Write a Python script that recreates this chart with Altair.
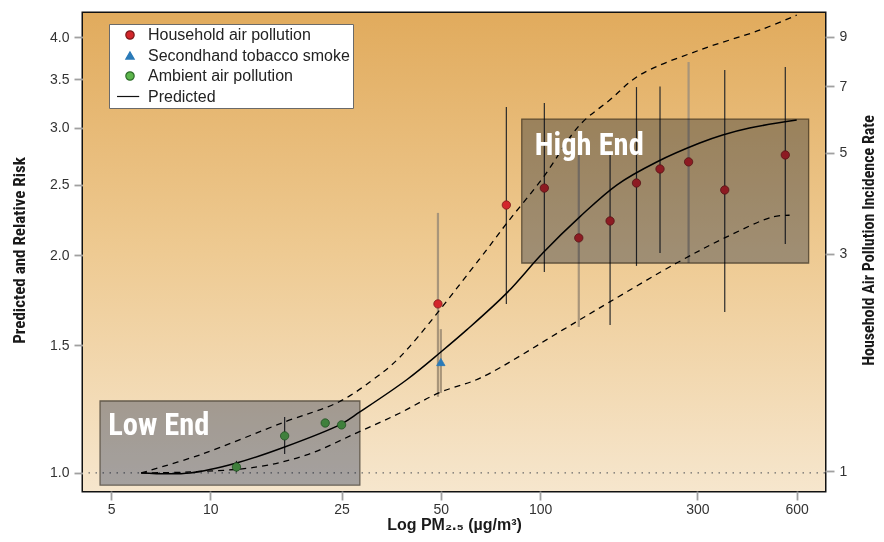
import altair as alt
import pandas as pd

# ---------------- data ----------------
series = ["Household air pollution", "Secondhand tobacco smoke",
          "Ambient air pollution", "Predicted"]

# Household air pollution (points + 95% CI)
hap_x = [49, 79, 103, 131, 163, 196, 231, 282, 363, 554]
hap_y = [1.712, 2.345, 2.475, 2.112, 2.229, 2.515, 2.63, 2.69, 2.46, 2.75]
hap_lo = [1.274, 1.712, 1.895, 1.591, 1.601, 1.932, 2.013, 1.950, 1.669, 2.072]
hap_hi = [2.287, 3.203, 3.244, 2.749, 2.749, 3.413, 3.42, 3.696, 3.603, 3.637]
hap_tone = ["faded", "dark", "dark", "faded", "dark", "dark", "dark", "faded", "dark", "dark"]

# Secondhand tobacco smoke
shs_x = [50]
shs_y = [1.423]
shs_lo = [1.29]
shs_hi = [1.58]

# Ambient air pollution
amb_x = [12.0, 16.8, 22.3, 25.0]
amb_y = [1.019, 1.125, 1.172, 1.165]
amb_ci_x = [12.0, 16.8]
amb_lo = [1.003, 1.062]
amb_hi = [1.039, 1.195]

# Predicted curve and its bounds
pred_x = [6.17, 8.68, 12.0, 16.8, 25.0, 28.4, 39.4, 50, 59.9, 79.3, 101.9,
          131.9, 170.7, 225.7, 304.8, 357.7, 431.5, 600]
pred_y = [1.0, 1.0, 1.032, 1.086, 1.169, 1.214, 1.345, 1.469, 1.576, 1.773,
          2.013, 2.258, 2.499, 2.689, 2.856, 2.930, 2.996, 3.073]
up_x = [6.17, 9.30, 16.8, 24.6, 31.1, 37.6, 65.2, 79.3, 101.9, 131.9, 162.6,
        200.5, 304.8, 463, 600]
up_y = [1.0, 1.059, 1.176, 1.254, 1.345, 1.446, 1.969, 2.214, 2.556, 3.025,
        3.275, 3.546, 3.84, 4.09, 4.29]
lo_x = [6.17, 8.68, 13.85, 19.6, 27.8, 37.6, 49.3, 66.0, 117.1, 162.6, 259.5,
        362.7, 507, 571]
lo_y = [1.0, 1.003, 1.019, 1.059, 1.136, 1.210, 1.290, 1.353, 1.576, 1.723,
        1.950, 2.112, 2.258, 2.27]

# Shaded regions
box_label = ["Low End", "High End"]
box_x1 = [4.63, 88.0]
box_x2 = [28.4, 652]
box_y1 = [0.962, 1.950]
box_y2 = [1.257, 3.083]
label_x = [4.90, 96.4]
label_y = [1.128, 2.749]

ref_level = [1.0]

x_ticks = [5, 10, 25, 50, 100, 300, 600]
left_ticks = [1.0, 1.5, 2.0, 2.5, 3.0, 3.5, 4.0]
right_ticks = [1, 3, 5, 7, 9]

x_domain = [4.11, 731]
left_domain = [0.944, 4.32]
right_domain = [0.904, 10.15]

# ---------------- frames ----------------
pts = pd.DataFrame({
    "x": hap_x + shs_x + amb_x,
    "y": hap_y + shs_y + amb_y,
    "series": [series[0]] * len(hap_x) + [series[1]] * len(shs_x) + [series[2]] * len(amb_x),
})
bars = pd.DataFrame({
    "x": hap_x + shs_x + amb_ci_x,
    "lo": hap_lo + shs_lo + amb_lo,
    "hi": hap_hi + shs_hi + amb_hi,
    "tone": hap_tone + ["faded"] * len(shs_x) + ["dark"] * len(amb_ci_x),
})
pred = pd.DataFrame({"x": pred_x, "y": pred_y})
upper = pd.DataFrame({"x": up_x, "y": up_y})
lower = pd.DataFrame({"x": lo_x, "y": lo_y})
boxes = pd.DataFrame({"label": box_label, "x1": box_x1, "x2": box_x2,
                      "y1": box_y1, "y2": box_y2, "lx": label_x, "ly": label_y})
ref = pd.DataFrame({"y": ref_level})
right = pd.DataFrame({"r": right_ticks})

W, H = 742, 478
NARROW = "Roboto Condensed, Roboto, sans-serif"
SANS = "Liberation Sans, Arial, Helvetica, sans-serif"

xscale = alt.Scale(type="log", domain=x_domain, nice=False)
yscale = alt.Scale(type="log", domain=left_domain, nice=False)

x_axis = alt.Axis(values=x_ticks, format="d", title="Log PM₂.₅ (µg/m³)",
                  titleFont=SANS, titleFontSize=16, titleFontWeight="bold",
                  titleColor="#1a1a1a", titleX=W / 2, titleY=38,
                  titleAlign="center", titleBaseline="alphabetic",
                  labelFlush=False, labelPadding=2)
y_axis = alt.Axis(values=left_ticks, format=".1f",
                  title="Predicted and Relative Risk",
                  titleFont=NARROW, titleFontSize=17, titleFontWeight="bold",
                  titleColor="#1a1a1a", titleAngle=270, titleX=-59, titleY=237,
                  titleAlign="center", titleBaseline="alphabetic")


def X(field="x"):
    return alt.X(f"{field}:Q", scale=xscale, axis=x_axis)


def Y(field="y"):
    return alt.Y(f"{field}:Q", scale=yscale, axis=y_axis)


background = alt.Chart(pd.DataFrame({"a": [0]})).mark_rect(
    color=alt.Gradient(
        gradient="linear", x1=0, x2=0, y1=0, y2=1,
        stops=[alt.GradientStop(offset=0, color="#e1ab5d"),
               alt.GradientStop(offset=0.5, color="#eeca92"),
               alt.GradientStop(offset=1, color="#f6e6cd")])
).encode(x=alt.value(0), x2=alt.value(W), y=alt.value(0), y2=alt.value(H))

dotted = alt.Chart(ref).mark_rule(color="#6a6a6a", strokeDash=[1.5, 5.5],
                                  strokeWidth=1.4).encode(y=Y())

errbars = alt.Chart(bars).mark_rule().encode(
    x=X(), y=Y("lo"), y2="hi:Q",
    color=alt.Color("tone:N", scale=alt.Scale(domain=["faded", "dark"],
                                              range=["#a8957a", "#2b2b2b"]),
                    legend=None),
    strokeWidth=alt.StrokeWidth("tone:N", scale=alt.Scale(domain=["faded", "dark"],
                                                          range=[2.2, 1.2]),
                                legend=None),
)

dash_up = alt.Chart(upper).mark_line(color="black", strokeWidth=1.3,
                                     strokeDash=[6, 5], interpolate="catmull-rom").encode(x=X(), y=Y())
dash_lo = alt.Chart(lower).mark_line(color="black", strokeWidth=1.3,
                                     strokeDash=[6, 5], interpolate="catmull-rom").encode(x=X(), y=Y())
solid = alt.Chart(pred).mark_line(color="black", strokeWidth=1.5,
                                  interpolate="catmull-rom").encode(x=X(), y=Y())

legend = alt.Legend(title=None, orient="none", legendX=26, legendY=11,
                    fillColor="white", strokeColor="#6a6a6a", padding=3,
                    symbolOffset=10, labelOffset=10, rowPadding=4.5,
                    labelFont=SANS, labelFontSize=16, labelColor="#222222",
                    labelLimit=400, symbolSize=70, symbolStrokeWidth=1.2,
                    labelExpr="datum.label + '\u2002\u2009'")
fills = ["#d3262b", "#2a7ab8", "#5db64c", "black"]
strokes = ["#7d1a1a", "#2a7ab8", "#2f6e2b", "#111111"]
shapes = ["circle", "triangle-up", "circle", "M-3.1,0L2.2,0"]

points = alt.Chart(pts).mark_point(filled=True, size=70, opacity=1,
                                   strokeWidth=0.8).encode(
    x=X(), y=Y(),
    fill=alt.Fill("series:N", scale=alt.Scale(domain=series, range=fills), legend=legend),
    stroke=alt.Stroke("series:N", scale=alt.Scale(domain=series, range=strokes), legend=legend),
    shape=alt.Shape("series:N", scale=alt.Scale(domain=series, range=shapes), legend=legend),
)

shade = alt.Chart(boxes).mark_rect(fill="#abb3c8", stroke="#6a6a6a",
                                   strokeWidth=1.3, blend="multiply").encode(
    x=X("x1"), x2="x2:Q", y=Y("y1"), y2="y2:Q")

labels = alt.Chart(boxes).mark_text(font=NARROW, fontWeight="bold", fontSize=30.5,
                                    color="white", align="left",
                                    baseline="alphabetic").encode(
    x=X("lx"), y=Y("ly"), text="label:N")

left_layer = alt.layer(background, dotted, errbars, dash_up, dash_lo, solid,
                       points, shade, labels)

right_layer = alt.Chart(right).mark_point(opacity=0).encode(
    y=alt.Y("r:Q", scale=alt.Scale(type="log", domain=right_domain, nice=False),
            axis=alt.Axis(orient="right", values=right_ticks, format="d",
                          labelPadding=5,
                          title="Household Air Pollution Incidence Rate",
                          titleFont=NARROW, titleFontSize=16, titleFontWeight="bold",
                          titleColor="#1a1a1a", titleAngle=270, titleX=48, titleY=227,
                          titleAlign="center", titleBaseline="alphabetic"))
)

chart = alt.layer(left_layer, right_layer).resolve_scale(y="independent").properties(
    width=W, height=H, autosize="none",
    padding={"left": 75, "top": 5, "right": 51, "bottom": 43},
).configure_view(stroke="#111111", strokeWidth=3).configure_axis(
    grid=False, domain=False, labelFont=SANS, labelFontSize=14,
    labelColor="#333333", tickColor="#a0a0a0", tickSize=9, tickWidth=1.8,
    labelPadding=5,
)

chart.save("out.html", embed_options={"renderer": "svg", "actions": False})
